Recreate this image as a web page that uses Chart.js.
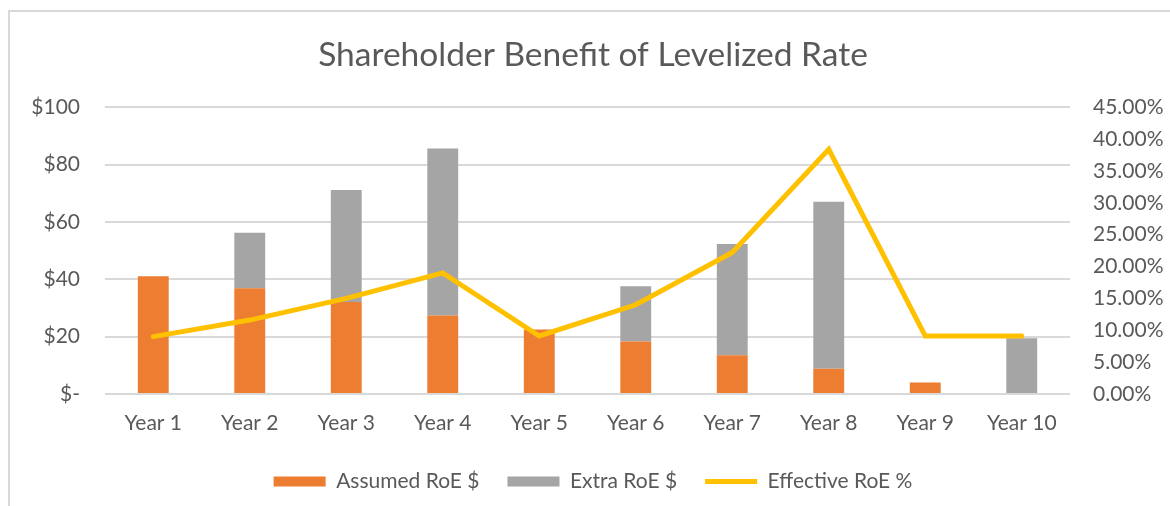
<!DOCTYPE html>
<html>
<head>
<meta charset="utf-8">
<script src="https://cdn.jsdelivr.net/npm/chart.js@4.4.1/dist/chart.umd.min.js"></script>
<style>
  html, body { margin: 0; padding: 0; background: #fff; }
  #wrap { position: relative; width: 1170px; height: 506px; overflow: hidden; }
  #frame { position: absolute; left: 8px; top: 10px; width: 1200px; height: 600px; border: 2px solid #d9d9d9; }
  #c { position: absolute; left: 0; top: 0; }
</style>
</head>
<body>
<div id="wrap">
  <div id="frame"></div>
  <canvas id="c" width="1170" height="506"></canvas>
</div>
<script>
const years = ["Year 1", "Year 2", "Year 3", "Year 4", "Year 5", "Year 6", "Year 7", "Year 8", "Year 9", "Year 10"];
const assumedRoE = [41.1, 36.9, 32.1, 27.4, 22.5, 18.3, 13.5, 8.8, 4.0, 0];
const extraRoE = [0, 19.3, 39.0, 58.2, 0, 19.3, 38.8, 58.2, 0, 19.4];
const effectiveRoEPct = [9.0, 11.6, 15.0, 19.0, 9.1, 14.0, 22.2, 38.4, 9.1, 9.1];

const textColor = '#595959';
const fontFamily = 'Lato, "Open Sans", sans-serif';

// order: lower draws on top and stacks first
new Chart(document.getElementById("c"), {
    type: 'bar',
    data: {
        labels: years,
        datasets: [
            {
                label: 'Assumed RoE $',
                data: assumedRoE,
                backgroundColor: '#ED7D31',
                yAxisID: 'y',
                order: 1,
                barPercentage: 0.32,
                categoryPercentage: 1,
                pointStyle: 'rect'
            },
            {
                label: 'Extra RoE $',
                data: extraRoE,
                backgroundColor: '#A5A5A5',
                yAxisID: 'y',
                order: 2,
                barPercentage: 0.32,
                categoryPercentage: 1,
                pointStyle: 'rect'
            },
            {
                type: 'line',
                label: 'Effective RoE %',
                data: effectiveRoEPct,
                borderColor: '#FFC000',
                backgroundColor: '#FFC000',
                borderWidth: 5,
                borderJoinStyle: 'miter',
                borderCapStyle: 'round',
                pointRadius: 0,
                tension: 0,
                yAxisID: 'y1',
                order: 0,
                pointStyle: 'line'
            }
        ]
    },
    options: {
        responsive: false,
        animation: false,
        layout: { padding: { top: 0, bottom: 4, left: 16, right: 0 } },
        plugins: {
            title: {
                display: true,
                text: 'Shareholder Benefit of Levelized Rate',
                color: textColor,
                font: { family: fontFamily, size: 33.5, weight: 'normal' },
                padding: { top: 35, bottom: 32 }
            },
            legend: {
                position: 'bottom',
                labels: {
                    color: textColor,
                    font: { family: fontFamily, size: 21 },
                    usePointStyle: true,
                    pointStyleWidth: 52,
                    boxHeight: 10,
                    padding: 28,
                    sort: (a, b) => a.datasetIndex - b.datasetIndex
                }
            },
            tooltip: { enabled: false }
        },
        scales: {
            x: {
                stacked: true,
                grid: { display: false, drawTicks: false },
                border: { display: false },
                ticks: { color: textColor, font: { family: fontFamily, size: 21 }, padding: 17 },
                afterFit: s => { s.height = 49; }
            },
            y: {
                stacked: true,
                position: 'left',
                min: 0,
                max: 100,
                grid: { color: '#d9d9d9', lineWidth: 2, drawTicks: false },
                border: { display: false },
                ticks: {
                    stepSize: 20,
                    color: textColor,
                    font: { family: fontFamily, size: 21 },
                    padding: 25,
                    callback: v => v === 0 ? '$-' : '$' + v
                },
                afterFit: s => { s.width = 89; }
            },
            y1: {
                position: 'right',
                min: 0,
                max: 45,
                grid: { display: false, drawTicks: false },
                border: { display: false },
                ticks: {
                    stepSize: 5,
                    color: textColor,
                    font: { family: fontFamily, size: 21 },
                    padding: 23,
                    callback: v => v.toFixed(2) + '%'
                },
                afterFit: s => { s.width = 100; }
            }
        }
    }
});
</script>
</body>
</html>
